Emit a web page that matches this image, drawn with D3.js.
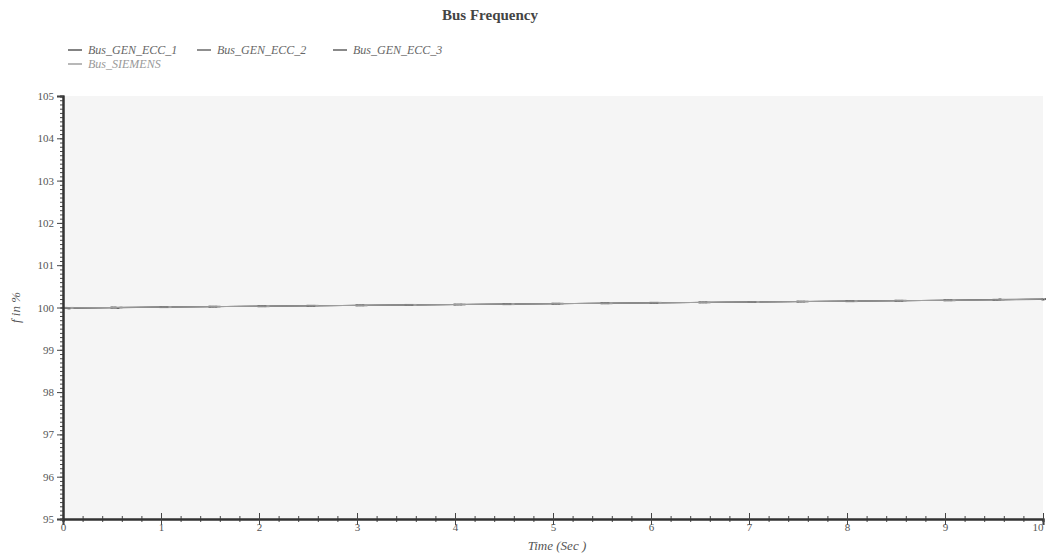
<!DOCTYPE html>
<html lang="en">
<head>
  <meta charset="UTF-8">
  <title>Bus Frequency</title>
  <style>
body {
  margin: 0;
  background: #fff;
  font-family: 'Liberation Serif', 'DejaVu Serif', serif;
}
#chart svg text {
  fill: #555;
  font-family: 'Liberation Serif', 'DejaVu Serif', serif;
}
  </style>
</head>
<body>
<div id="chart"></div>
<script src="https://cdn.jsdelivr.net/npm/d3@7"></script>
<script>
/* global d3 */

// time samples (sec) and bus frequency in % for each bus
var times = [0, 0.5, 1, 1.5, 2, 2.5, 3, 3.5, 4, 4.5, 5, 5.5, 6, 6.5, 7, 7.5, 8, 8.5, 9, 9.5, 10];
var ecc1 = [99.99, 100.0, 100.01, 100.02, 100.03, 100.04, 100.05, 100.06, 100.07, 100.08, 100.09, 100.1, 100.11, 100.12, 100.13, 100.14, 100.15, 100.16, 100.17, 100.18, 100.19];
var ecc2 = [99.99, 100.0, 100.01, 100.02, 100.03, 100.04, 100.05, 100.06, 100.07, 100.08, 100.09, 100.1, 100.11, 100.12, 100.13, 100.14, 100.15, 100.16, 100.17, 100.18, 100.2];
var ecc3 = [99.98, 99.99, 100.01, 100.02, 100.03, 100.04, 100.05, 100.06, 100.07, 100.08, 100.09, 100.1, 100.11, 100.12, 100.13, 100.14, 100.15, 100.16, 100.17, 100.19, 100.2];
var siemens = [99.99, 100.0, 100.01, 100.02, 100.03, 100.04, 100.05, 100.06, 100.07, 100.08, 100.09, 100.1, 100.11, 100.12, 100.13, 100.14, 100.15, 100.16, 100.17, 100.18, 100.2];
var seriesNames = ["Bus_GEN_ECC_1", "Bus_GEN_ECC_2", "Bus_GEN_ECC_3", "Bus_SIEMENS"];
var seriesValues = [ecc1, ecc2, ecc3, siemens];
var yTicks = [95, 96, 97, 98, 99, 100, 101, 102, 103, 104, 105];
var xTicks = [0, 1, 2, 3, 4, 5, 6, 7, 8, 9, 10];

var width = 1046, height = 557;
var margin = {top: 96, right: 3, bottom: 38, left: 63};
var colors = ["#5a5a5a", "#6a6a6a", "#626262", "#a0a0a0"];

var svg = d3.select("#chart").append("svg")
  .attr("width", width)
  .attr("height", height);

var x = d3.scaleLinear().domain([0, 10]).range([margin.left, width - margin.right]);
var y = d3.scaleLinear().domain([95, 105]).range([height - margin.bottom, margin.top]);

// plot background
svg.append("rect")
  .attr("x", x(0)).attr("y", y(105))
  .attr("width", x(10) - x(0)).attr("height", y(95) - y(105))
  .attr("fill", "#f5f5f5");

// title
svg.append("text")
  .attr("x", 490).attr("y", 20)
  .attr("text-anchor", "middle")
  .style("font-size", "15px")
  .style("font-weight", "bold")
  .style("fill", "#444")
  .text("Bus Frequency");

// legend
var legendPos = [[68, 54], [197, 54], [333, 54], [68, 68]];
var legend = svg.append("g");
seriesNames.forEach(function (name, i) {
  var g = legend.append("g").attr("transform", "translate(" + legendPos[i][0] + "," + legendPos[i][1] + ")");
  g.append("line").attr("x1", 0).attr("x2", 14).attr("y1", -4).attr("y2", -4)
    .attr("stroke", colors[i]).attr("stroke-width", 1.5);
  g.append("text").attr("x", 20).attr("y", 0)
    .style("font-size", "12px").style("font-style", "italic")
    .style("fill", i === 3 ? "#999" : "#666")
    .text(name);
});

// lines
var line = d3.line()
  .x(function (d, i) { return x(times[i]); })
  .y(function (d) { return y(d); });

seriesValues.forEach(function (vals, i) {
  svg.append("path")
    .datum(vals)
    .attr("fill", "none")
    .attr("stroke", colors[i])
    .attr("stroke-width", 1)
    .attr("d", line);
  svg.append("g").selectAll("rect")
    .data(vals)
    .join("rect")
    .attr("x", function (d, j) { return x(times[j]) - 1.5 + i * 3; })
    .attr("y", function (d) { return y(d) - 1; })
    .attr("width", 3).attr("height", 2)
    .attr("fill", colors[i]);
});

// axes
var xMinor = d3.range(0, 10.001, 0.2);
var yMinor = d3.range(95, 105.001, 0.1);

var xAxis = svg.append("g")
  .attr("transform", "translate(0," + y(95) + ")");
xAxis.call(d3.axisBottom(x).tickValues(xMinor).tickSize(3).tickFormat(""));
xAxis.selectAll(".tick line").attr("y1", -3);
xAxis.append("g").call(d3.axisBottom(x).tickValues(xTicks).tickSize(6).tickFormat(d3.format("d")))
  .selectAll(".tick line").attr("y1", -6);
xAxis.selectAll("path.domain").attr("stroke-width", 2).attr("stroke", "#333");
xAxis.selectAll(".tick line").attr("stroke", "#444");
xAxis.selectAll("text").style("font-size", "11px").attr("y", 4);
xAxis.selectAll(".tick text").filter(function (d) { return d === 10; }).attr("text-anchor", "end");

var yAxis = svg.append("g")
  .attr("transform", "translate(" + x(0) + ",0)");
yAxis.call(d3.axisLeft(y).tickValues(yMinor).tickSize(3).tickFormat(""));
yAxis.append("g").call(d3.axisLeft(y).tickValues(yTicks).tickSize(6).tickFormat(d3.format("d")));
yAxis.selectAll("path.domain").attr("stroke-width", 2).attr("stroke", "#333");
yAxis.selectAll(".tick line").attr("stroke", "#444");
yAxis.selectAll("text").style("font-size", "11px");

// axis titles
svg.append("text")
  .attr("x", 557).attr("y", 550)
  .attr("text-anchor", "middle")
  .style("font-size", "13px").style("font-style", "italic")
  .text("Time (Sec )");

svg.append("text")
  .attr("transform", "translate(20," + y(100) + ") rotate(-90)")
  .attr("text-anchor", "middle")
  .style("font-size", "13px").style("font-style", "italic")
  .text("f in %");
</script>
</body>
</html>
